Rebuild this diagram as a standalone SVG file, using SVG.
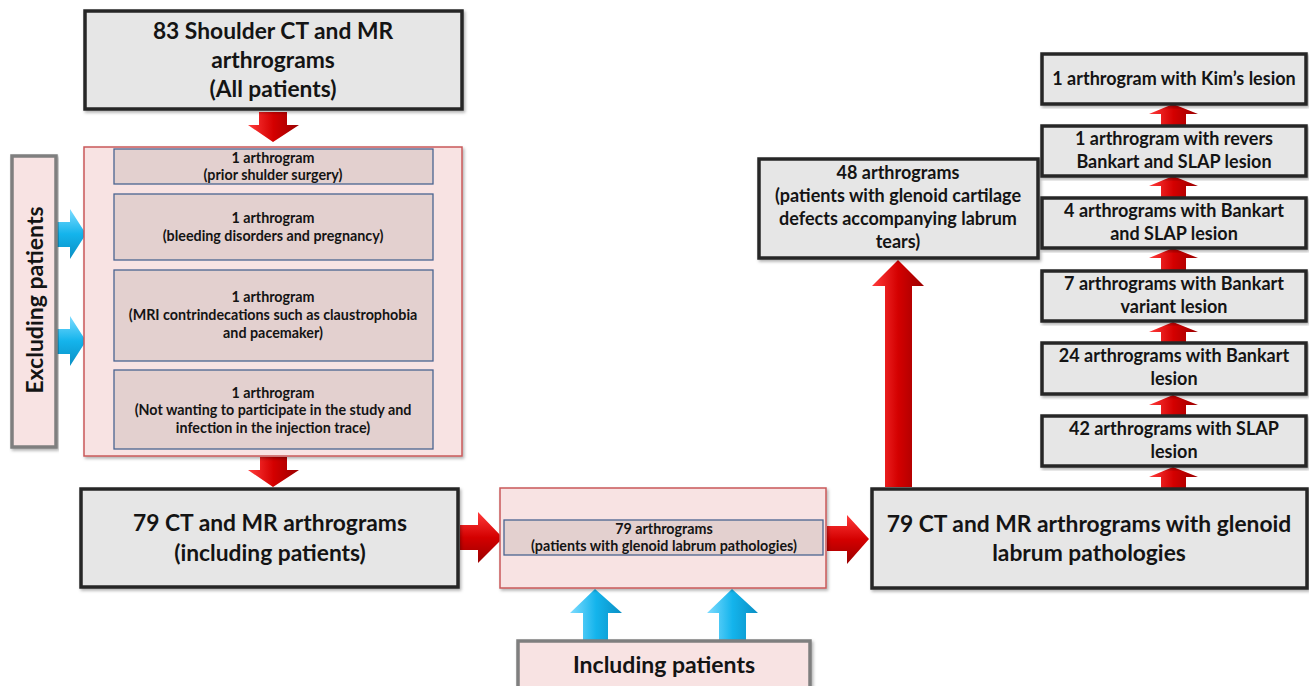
<svg xmlns="http://www.w3.org/2000/svg" width="1309" height="686" viewBox="0 0 1309 686">
<defs>
<linearGradient id="redV" x1="0" y1="0" x2="1" y2="0">
<stop offset="0" stop-color="#ff3b3b"/><stop offset="0.5" stop-color="#d40000"/><stop offset="1" stop-color="#9a0000"/>
</linearGradient>
<linearGradient id="redH" x1="0" y1="0" x2="0" y2="1">
<stop offset="0" stop-color="#ff3b3b"/><stop offset="0.5" stop-color="#d40000"/><stop offset="1" stop-color="#9a0000"/>
</linearGradient>
<linearGradient id="blueV" x1="0" y1="0" x2="1" y2="0">
<stop offset="0" stop-color="#7fdcff"/><stop offset="0.5" stop-color="#14b4ec"/><stop offset="1" stop-color="#0a8fc4"/>
</linearGradient>
<linearGradient id="blueH" x1="0" y1="0" x2="0" y2="1">
<stop offset="0" stop-color="#7fdcff"/><stop offset="0.5" stop-color="#14b4ec"/><stop offset="1" stop-color="#0a8fc4"/>
</linearGradient>
<filter id="sh" x="-5%" y="-5%" width="110%" height="115%">
<feDropShadow dx="1.5" dy="2" stdDeviation="1.5" flood-color="#000" flood-opacity="0.3"/>
</filter>
</defs>
<style>
.gray{fill:#e6e6e6;stroke:#262626;stroke-width:3.5}
.pink{fill:#f8e3e3;stroke:#c9585a;stroke-width:1.5}
.side{fill:#f8e3e3;stroke:#7f7f7f;stroke-width:3.5}
.inner{fill:#e3d0cf;stroke:#4a6491;stroke-width:1.3}
text{font-family:Lato,"Liberation Sans",sans-serif;font-weight:bold;fill:#141414;text-anchor:middle}
.t22{font-size:22.8px}
.t16{font-size:18px}
.t13{font-size:14.3px}
</style>
<rect width="1309" height="686" fill="#ffffff"/>

<g id="connectors">
<polygon fill="url(#redV)" points="259,112 287,112 287,125 299,125 273,142 248,125 259,125"/>
<polygon fill="url(#redV)" points="260,457 287,457 287,470 299,470 273,487 248,470 260,470"/>
<polygon fill="url(#redH)" points="460,525 478,525 478,512 503,538 478,563 478,550 460,550"/>
<polygon fill="url(#redH)" points="827,526 847,526 847,515 869,539 847,564 847,551 827,551"/>
<polygon fill="url(#blueH)" points="55,222 70,222 70,209 86,234 70,259 70,247 55,247"/>
<polygon fill="url(#blueH)" points="55,329 70,329 70,316 86,341 70,366 70,354 55,354"/>
<polygon fill="url(#blueV)" points="583,640 583,613 570,613 595,589 622,613 608,613 608,640"/>
<polygon fill="url(#blueV)" points="719,640 719,613 707,613 732,589 758,613 746,613 746,640"/>
<polygon fill="url(#redV)" points="885,487 885,286 872,286 898,260 924,286 912,286 912,487"/>
<polygon fill="url(#redV)" points="1161,125 1161,114 1149,114 1173,104 1198,114 1186,114 1186,125"/>
<polygon fill="url(#redV)" points="1161,197 1161,186 1149,186 1173,176 1198,186 1186,186 1186,197"/>
<polygon fill="url(#redV)" points="1161,270 1161,258 1149,258 1173,248 1198,258 1186,258 1186,270"/>
<polygon fill="url(#redV)" points="1161,343 1161,332 1149,332 1173,322 1198,332 1186,332 1186,343"/>
<polygon fill="url(#redV)" points="1161,415 1161,405 1149,405 1173,395 1198,405 1186,405 1186,415"/>
<polygon fill="url(#redV)" points="1161,488 1161,477 1149,477 1173,467 1198,477 1186,477 1186,488"/>
</g>

<g id="all-patients">
<rect class="gray" x="85" y="11" width="377" height="98" filter="url(#sh)"/>
<text class="t22" x="273" y="39">83 Shoulder CT and MR</text>
<text class="t22" x="273" y="68">arthrograms</text>
<text class="t22" x="273" y="97">(All patients)</text>
</g>

<g id="excluding-patients">
<rect class="side" x="12" y="156" width="44" height="291" filter="url(#sh)"/>
<text x="43" y="300" font-size="23" transform="rotate(-90 43 300)">Excluding patients</text>
</g>

<g id="exclusions">
<rect class="pink" x="84" y="147" width="378" height="309" filter="url(#sh)"/>
<g id="ex1">
<rect class="inner" x="114" y="149" width="319" height="35"/>
<text class="t13" x="273" y="163">1 arthrogram</text>
<text class="t13" x="273" y="180">(prior shulder surgery)</text>
</g>
<g id="ex2">
<rect class="inner" x="114" y="194" width="319" height="66"/>
<text class="t13" x="273" y="223">1 arthrogram</text>
<text class="t13" x="273" y="241">(bleeding disorders and pregnancy)</text>
</g>
<g id="ex3">
<rect class="inner" x="114" y="270" width="319" height="91"/>
<text class="t13" x="273" y="302">1 arthrogram</text>
<text class="t13" x="273" y="320">(MRI contrindecations such as claustrophobia</text>
<text class="t13" x="273" y="338">and pacemaker)</text>
</g>
<g id="ex4">
<rect class="inner" x="114" y="370" width="319" height="79"/>
<text class="t13" x="273" y="398">1 arthrogram</text>
<text class="t13" x="273" y="415">(Not wanting to participate in the study and</text>
<text class="t13" x="273" y="433">infection in the injection trace)</text>
</g>
</g>

<g id="including-79">
<rect class="gray" x="81" y="489" width="377" height="98" filter="url(#sh)"/>
<text class="t22" x="270" y="531">79 CT and MR arthrograms</text>
<text class="t22" x="270" y="561">(including patients)</text>
</g>

<g id="labrum-79">
<rect class="pink" x="500" y="488" width="326" height="100" filter="url(#sh)"/>
<rect class="inner" x="504" y="520" width="319" height="35"/>
<text class="t13" x="664" y="534">79 arthrograms</text>
<text class="t13" x="664" y="551">(patients with glenoid labrum pathologies)</text>
</g>

<g id="including-patients">
<rect class="side" x="518" y="641" width="292" height="50" filter="url(#sh)"/>
<text x="664" y="673" font-size="23">Including patients</text>
</g>

<g id="pathologies-79">
<rect class="gray" x="872" y="489" width="435" height="99" filter="url(#sh)"/>
<text class="t22" x="1089" y="532">79 CT and MR arthrograms with glenoid</text>
<text class="t22" x="1089" y="561">labrum pathologies</text>
</g>

<g id="cartilage-48">
<rect class="gray" x="759" y="159" width="279" height="99" filter="url(#sh)"/>
<text class="t16" x="898" y="179">48 arthrograms</text>
<text class="t16" x="898" y="202">(patients with glenoid cartilage</text>
<text class="t16" x="898" y="225">defects accompanying labrum</text>
<text class="t16" x="898" y="248">tears)</text>
</g>

<g id="kim">
<rect class="gray" x="1042" y="54" width="264" height="50" filter="url(#sh)"/>
<text class="t16" x="1174" y="85">1 arthrogram with Kim’s lesion</text>
</g>
<g id="revers">
<rect class="gray" x="1042" y="126" width="264" height="50" filter="url(#sh)"/>
<text class="t16" x="1174" y="145">1 arthrogram with revers</text>
<text class="t16" x="1174" y="168">Bankart and SLAP lesion</text>
</g>
<g id="bankart-slap-4">
<rect class="gray" x="1042" y="198" width="264" height="50" filter="url(#sh)"/>
<text class="t16" x="1174" y="217">4 arthrograms with Bankart</text>
<text class="t16" x="1174" y="240">and SLAP lesion</text>
</g>
<g id="variant-7">
<rect class="gray" x="1042" y="271" width="264" height="50" filter="url(#sh)"/>
<text class="t16" x="1174" y="290">7 arthrograms with Bankart</text>
<text class="t16" x="1174" y="313">variant lesion</text>
</g>
<g id="bankart-24">
<rect class="gray" x="1042" y="343" width="264" height="51" filter="url(#sh)"/>
<text class="t16" x="1174" y="362">24 arthrograms with Bankart</text>
<text class="t16" x="1174" y="385">lesion</text>
</g>
<g id="slap-42">
<rect class="gray" x="1042" y="416" width="264" height="50" filter="url(#sh)"/>
<text class="t16" x="1174" y="435">42 arthrograms with SLAP</text>
<text class="t16" x="1174" y="458">lesion</text>
</g>
</svg>
